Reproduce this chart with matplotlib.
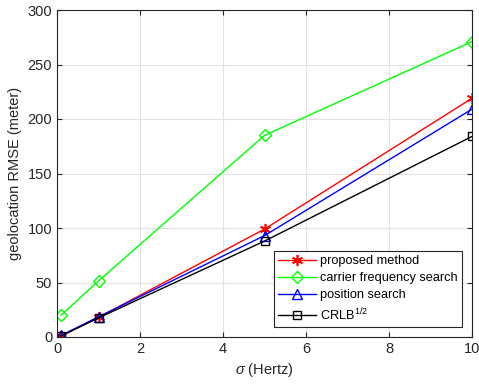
import matplotlib
matplotlib.use("Agg")
import matplotlib.pyplot as plt

plt.rcParams["font.family"] = ["Liberation Sans", "DejaVu Sans"]
plt.rcParams["mathtext.fontset"] = "custom"
plt.rcParams["mathtext.it"] = "Liberation Sans:italic"
plt.rcParams["mathtext.rm"] = "Liberation Sans"

sigma = [0.1, 1, 5, 10]
proposed = [1, 18, 99, 219]
carrier = [20, 51.5, 185, 271]
position = [1.5, 18.5, 93, 209]
crlb = [1, 17.5, 88, 184]

fig = plt.figure(figsize=(4.79, 3.84), dpi=100)
ax = fig.add_axes([57 / 479, 47 / 384, 415 / 479, 327 / 384])

# MATLAB-style asterisk marker
ax.plot(sigma, proposed, color="red", marker=(6, 2, 0), ms=8, mew=1.2, lw=1,
        label="proposed method")
ax.plot(sigma, carrier, color="#00ff00", marker="D", ms=6.5, mfc="none", lw=1,
        label="carrier frequency search")
ax.plot(sigma, position, color="blue", marker="^", ms=7, mfc="none", lw=1,
        label="position search")
ax.plot(sigma, crlb, color="black", marker="s", ms=6, mfc="none", lw=1,
        label="CRLB$^{1/2}$")

ax.set_xlim(0, 10)
ax.set_ylim(0, 300)
ax.set_xticks([0, 2, 4, 6, 8, 10])
ax.set_yticks([0, 50, 100, 150, 200, 250, 300])
ax.grid(True, color="#e3e3e3", lw=0.8)
ax.set_axisbelow(True)
ax.tick_params(direction="in", top=True, right=True, labelsize=10.5, colors="#262626")
for s in ax.spines.values():
    s.set_color("#262626")
    s.set_linewidth(0.8)

ax.set_xlabel(r"$\sigma$ (Hertz)", fontsize=10.5, color="#262626")
ax.set_ylabel("geolocation RMSE (meter)", fontsize=10.5, color="#262626")

leg = ax.legend(loc="lower right", fontsize=9.2, fancybox=False, framealpha=1,
                edgecolor="#262626", handlelength=3.0, borderpad=0.3,
                labelspacing=0.4, handletextpad=0.3, borderaxespad=0.8)
leg.get_frame().set_linewidth(0.8)

fig.savefig("out.png", dpi=100)
